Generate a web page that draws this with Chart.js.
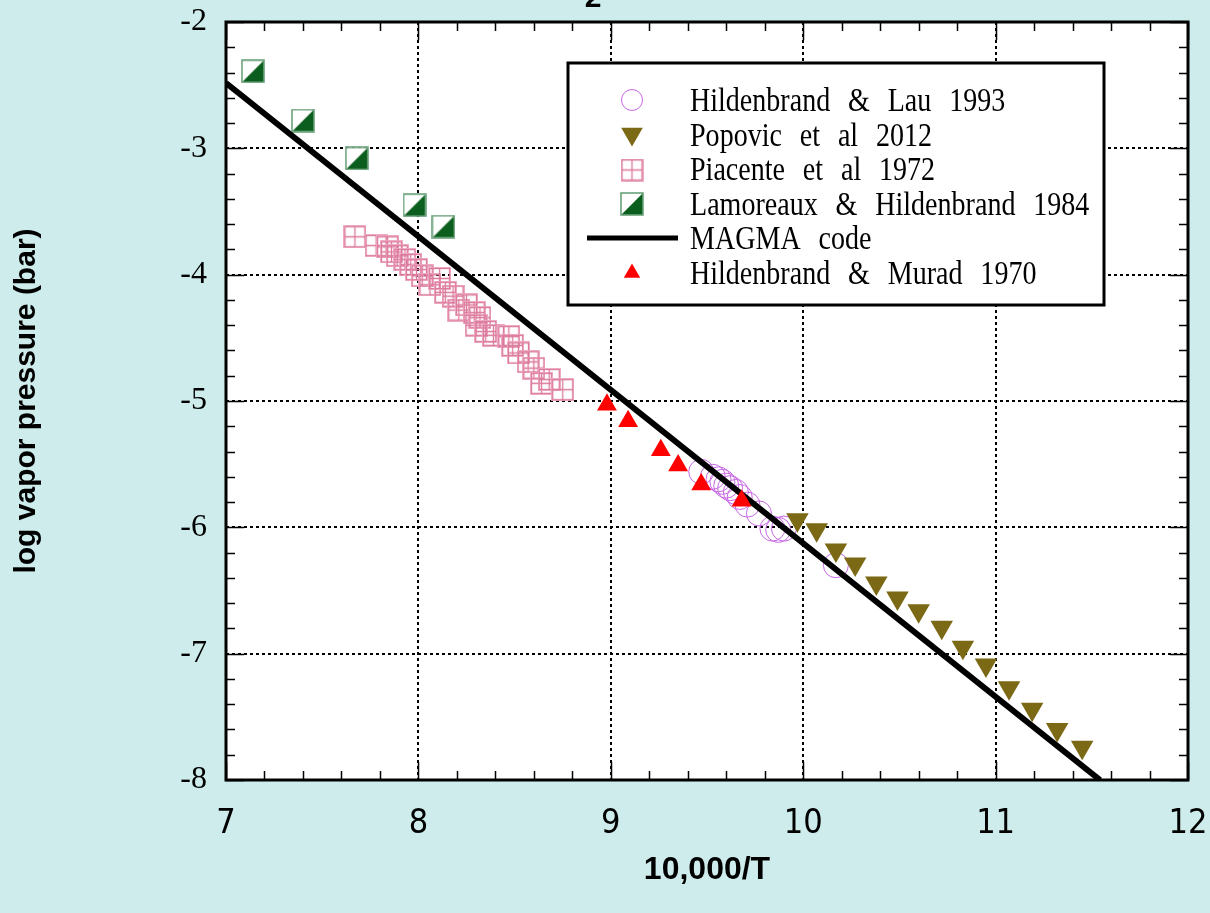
<!DOCTYPE html>
<html>
<head>
<meta charset="utf-8">
<title>log vapor pressure vs 10,000/T</title>
<script src="https://cdn.jsdelivr.net/npm/chart.js@4.4.0/dist/chart.umd.min.js"></script>
<style>
  html, body { margin: 0; padding: 0; background: #cdeceb; }
  #wrap { position: relative; width: 1210px; height: 913px; }
</style>
</head>
<body>
<div id="wrap"><canvas id="chart"></canvas></div>
<script>
// axes: x = 10,000/T, y = log vapor pressure (bar)
const xMin = 7, xMax = 12;
const yMin = -8, yMax = -2;

// Hildenbrand & Lau 1993
const lauX = [9.47, 9.53, 9.56, 9.58, 9.60, 9.62, 9.65, 9.67, 9.71, 9.77, 9.84, 9.87, 9.90, 10.17];
const lauY = [-5.56, -5.60, -5.62, -5.64, -5.67, -5.69, -5.72, -5.76, -5.82, -5.89, -6.01, -6.02, -6.01, -6.30];

// Popovic et al 2012
const popX = [9.97, 10.07, 10.17, 10.27, 10.38, 10.49, 10.60, 10.72, 10.83, 10.95, 11.07, 11.19, 11.32, 11.45];
const popY = [-5.94, -6.02, -6.18, -6.29, -6.44, -6.56, -6.66, -6.79, -6.95, -7.09, -7.27, -7.44, -7.60, -7.74];

// Piacente et al 1972
const piaX = [7.67, 7.78, 7.84, 7.86, 7.89, 7.93, 7.96, 7.99, 8.02, 8.06, 8.11, 8.14, 8.18, 8.21,
              8.25, 8.29, 8.32, 8.30, 8.35, 8.39, 8.47, 8.49, 8.52, 8.57, 8.60, 8.64, 8.68, 8.75];
const piaY = [-3.70, -3.77, -3.78, -3.82, -3.85, -3.88, -3.92, -3.96, -4.01, -4.08, -4.03, -4.14, -4.17, -4.28,
              -4.24, -4.30, -4.34, -4.40, -4.45, -4.48, -4.49, -4.56, -4.62, -4.69, -4.74, -4.86, -4.83, -4.91];

// Lamoreaux & Hildenbrand 1984
const lamX = [7.14, 7.40, 7.68, 7.98, 8.13];
const lamY = [-2.39, -2.78, -3.08, -3.45, -3.62];

// MAGMA code
const magmaX = [7.0, 11.543];
const magmaY = [-2.483, -8.0];

// Hildenbrand & Murad 1970
const muradX = [8.98, 9.09, 9.26, 9.35, 9.47, 9.68];
const muradY = [-5.03, -5.16, -5.39, -5.51, -5.66, -5.79];

const legendLabels = [
  'Hildenbrand & Lau 1993',
  'Popovic et al 2012',
  'Piacente et al 1972',
  'Lamoreaux & Hildenbrand 1984',
  'MAGMA code',
  'Hildenbrand & Murad 1970'
];

const toPoints = (xs, ys) => xs.map((x, i) => ({ x: x, y: ys[i] }));

// crosshatched pink square
function makeGridSquare() {
  const c = document.createElement('canvas');
  c.width = 23; c.height = 23;
  const g = c.getContext('2d');
  g.strokeStyle = 'rgba(236, 170, 195, 0.9)';
  g.lineWidth = 1;
  g.strokeRect(0.5, 0.5, 22, 22);
  g.strokeStyle = '#dc7a9c';
  g.lineWidth = 1.3;
  g.strokeRect(1.5, 1.5, 20, 20);
  g.beginPath();
  g.moveTo(11.5, 1.5); g.lineTo(11.5, 21.5);
  g.moveTo(1.5, 11.5); g.lineTo(21.5, 11.5);
  g.stroke();
  return c;
}

// half filled green square
function makeHalfSquare() {
  const c = document.createElement('canvas');
  c.width = 24; c.height = 24;
  const g = c.getContext('2d');
  g.fillStyle = '#ffffff';
  g.fillRect(1, 1, 22, 22);
  g.fillStyle = '#0b5e1d';
  g.beginPath();
  g.moveTo(23, 1); g.lineTo(23, 23); g.lineTo(1, 23);
  g.closePath();
  g.fill();
  g.strokeStyle = '#6aa27a';
  g.lineWidth = 1.6;
  g.strokeRect(1, 1, 22, 22);
  return c;
}

const gridSquare = makeGridSquare();
const halfSquare = makeHalfSquare();

const LAU_COLOR = '#c868e6';
const POP_COLOR = '#7b6915';
const MURAD_COLOR = '#ff0000';

function isEdge(v, lo, hi) {
  return Math.abs(v - lo) < 1e-6 || Math.abs(v - hi) < 1e-6;
}

// white plot area, frame, inward ticks
const framePlugin = {
  id: 'framePlugin',
  beforeDraw(chart) {
    const { ctx, chartArea: a } = chart;
    ctx.save();
    ctx.fillStyle = '#ffffff';
    ctx.fillRect(a.left, a.top, a.right - a.left, a.bottom - a.top);
    ctx.restore();
  },
  afterDatasetsDraw(chart) {
    const { ctx, chartArea: a, scales } = chart;
    const xs = scales.x, ys = scales.y;
    ctx.save();
    ctx.strokeStyle = '#000';
    ctx.lineWidth = 1.5;
    ctx.beginPath();
    for (let i = 0; i <= 25; i++) {
      const px = Math.round(xs.getPixelForValue(xMin + i * 0.2)) + 0.5;
      const len = i % 5 === 0 ? 18 : 9;
      ctx.moveTo(px, a.bottom); ctx.lineTo(px, a.bottom - len);
      ctx.moveTo(px, a.top); ctx.lineTo(px, a.top + len);
    }
    for (let i = 0; i <= 30; i++) {
      const py = Math.round(ys.getPixelForValue(yMin + i * 0.2)) + 0.5;
      const len = i % 5 === 0 ? 18 : 9;
      ctx.moveTo(a.left, py); ctx.lineTo(a.left + len, py);
      ctx.moveTo(a.right, py); ctx.lineTo(a.right - len, py);
    }
    ctx.stroke();
    ctx.lineWidth = 3;
    ctx.strokeRect(a.left, a.top, a.right - a.left, a.bottom - a.top);
    ctx.restore();
  },
  afterDraw(chart) {
    const ctx = chart.ctx;
    // remains of the cropped title
    ctx.save();
    ctx.fillStyle = '#000';
    ctx.font = 'bold 30px "Liberation Sans", Arial, sans-serif';
    ctx.textAlign = 'center';
    ctx.textBaseline = 'alphabetic';
    ctx.fillText('2', 593, 7);
    ctx.restore();
    drawLegend(ctx);
  }
};

function drawMarker(ctx, idx, x, y) {
  ctx.save();
  if (idx === 0) {
    ctx.strokeStyle = LAU_COLOR;
    ctx.lineWidth = 1;
    ctx.beginPath();
    ctx.arc(x, y, 10.5, 0, Math.PI * 2);
    ctx.stroke();
  } else if (idx === 1 || idx === 5) {
    const r = idx === 1 ? 12.5 : 9.5;
    const dir = idx === 1 ? 1 : -1;
    ctx.fillStyle = idx === 1 ? POP_COLOR : MURAD_COLOR;
    ctx.beginPath();
    ctx.moveTo(x, y + dir * r);
    ctx.lineTo(x - r * 0.866, y - dir * r * 0.5);
    ctx.lineTo(x + r * 0.866, y - dir * r * 0.5);
    ctx.closePath();
    ctx.fill();
  } else if (idx === 2) {
    ctx.drawImage(gridSquare, x - 11.5, y - 11.5);
  } else if (idx === 3) {
    ctx.drawImage(halfSquare, x - 12, y - 12);
  } else if (idx === 4) {
    ctx.strokeStyle = '#000';
    ctx.lineWidth = 5;
    ctx.beginPath();
    ctx.moveTo(587, y); ctx.lineTo(678, y);
    ctx.stroke();
  }
  ctx.restore();
}

function drawSpacedText(ctx, text, x, y) {
  ctx.save();
  ctx.translate(x, y);
  ctx.scale(0.85, 1);
  let cx = 0;
  text.split(' ').forEach(w => {
    ctx.fillText(w, cx, 0);
    cx += ctx.measureText(w).width + 21;
  });
  ctx.restore();
}

function drawLegend(ctx) {
  ctx.save();
  ctx.fillStyle = '#ffffff';
  ctx.fillRect(568, 63, 536, 242);
  ctx.strokeStyle = '#000';
  ctx.lineWidth = 3;
  ctx.strokeRect(568, 63, 536, 242);
  ctx.fillStyle = '#000';
  ctx.font = '33px "Liberation Serif", "Times New Roman", serif';
  ctx.textBaseline = 'alphabetic';
  ctx.textAlign = 'left';
  const markerY = [100, 134, 170, 204, 238, 273];
  legendLabels.forEach((label, i) => {
    const base = 111 + i * 34.6;
    drawMarker(ctx, i, 632, markerY[i]);
    drawSpacedText(ctx, label, 690, base);
  });
  ctx.restore();
}

const ctx = document.getElementById('chart').getContext('2d');
const chart = new Chart(ctx, {
  type: 'scatter',
  data: {
    datasets: [
      {
        label: legendLabels[5],
        data: toPoints(muradX, muradY),
        pointStyle: 'triangle',
        pointRadius: 11.5,
        backgroundColor: MURAD_COLOR,
        borderWidth: 0,
        order: 0
      },
      {
        label: legendLabels[4],
        data: toPoints(magmaX, magmaY),
        showLine: true,
        pointRadius: 0,
        borderColor: '#000000',
        borderWidth: 6,
        order: 1
      },
      {
        label: legendLabels[3],
        data: toPoints(lamX, lamY),
        pointStyle: halfSquare,
        order: 2
      },
      {
        label: legendLabels[1],
        data: toPoints(popX, popY),
        pointStyle: 'triangle',
        rotation: 180,
        pointRadius: 13,
        backgroundColor: POP_COLOR,
        borderWidth: 0,
        order: 3
      },
      {
        label: legendLabels[2],
        data: toPoints(piaX, piaY),
        pointStyle: gridSquare,
        order: 4
      },
      {
        label: legendLabels[0],
        data: toPoints(lauX, lauY),
        pointStyle: 'circle',
        pointRadius: 12.5,
        borderColor: LAU_COLOR,
        backgroundColor: 'rgba(0,0,0,0)',
        borderWidth: 1,
        order: 5
      }
    ]
  },
  options: {
    responsive: true,
    maintainAspectRatio: false,
    animation: false,
    layout: { padding: { left: 0, top: 22, right: 22, bottom: 0 } },
    plugins: {
      legend: { display: false },
      tooltip: { enabled: false }
    },
    scales: {
      x: {
        type: 'linear',
        min: xMin,
        max: xMax,
        afterFit: s => {
          s.height = 133;
          s.paddingLeft = 0; s.paddingRight = 0;
        },
        ticks: {
          stepSize: 1,
          autoSkip: false,
          maxRotation: 0,
          padding: 24,
          color: '#000',
          font: { family: '"Liberation Sans Narrow", "DejaVu Sans Condensed", "Liberation Sans", sans-serif', size: 34 }
        },
        grid: {
          drawTicks: false,
          lineWidth: 2,
          color: c => (c.tick && isEdge(c.tick.value, xMin, xMax)) ? 'rgba(0,0,0,0)' : '#000'
        },
        border: { display: false, dash: [3, 3] },
        title: {
          display: true,
          text: '10,000/T',
          color: '#000',
          padding: { top: 0, bottom: 24 },
          font: { family: '"Liberation Sans", Arial, sans-serif', size: 32, weight: 'bold' }
        }
      },
      y: {
        type: 'linear',
        min: yMin,
        max: yMax,
        afterFit: s => {
          s.width = 226;
          s.paddingTop = 0; s.paddingBottom = 0;
        },
        ticks: {
          stepSize: 1,
          autoSkip: false,
          padding: 19,
          color: '#000',
          font: { family: '"Liberation Serif", "Times New Roman", serif', size: 32 }
        },
        grid: {
          drawTicks: false,
          lineWidth: 2,
          color: c => (c.tick && isEdge(c.tick.value, yMin, yMax)) ? 'rgba(0,0,0,0)' : '#000'
        },
        border: { display: false, dash: [3, 3] },
        title: {
          display: true,
          text: 'log vapor pressure (bar)',
          color: '#000',
          padding: { top: 9, bottom: 0 },
          font: { family: '"Liberation Sans", Arial, sans-serif', size: 30, weight: 'bold' }
        }
      }
    }
  },
  plugins: [framePlugin]
});
</script>
</body>
</html>
